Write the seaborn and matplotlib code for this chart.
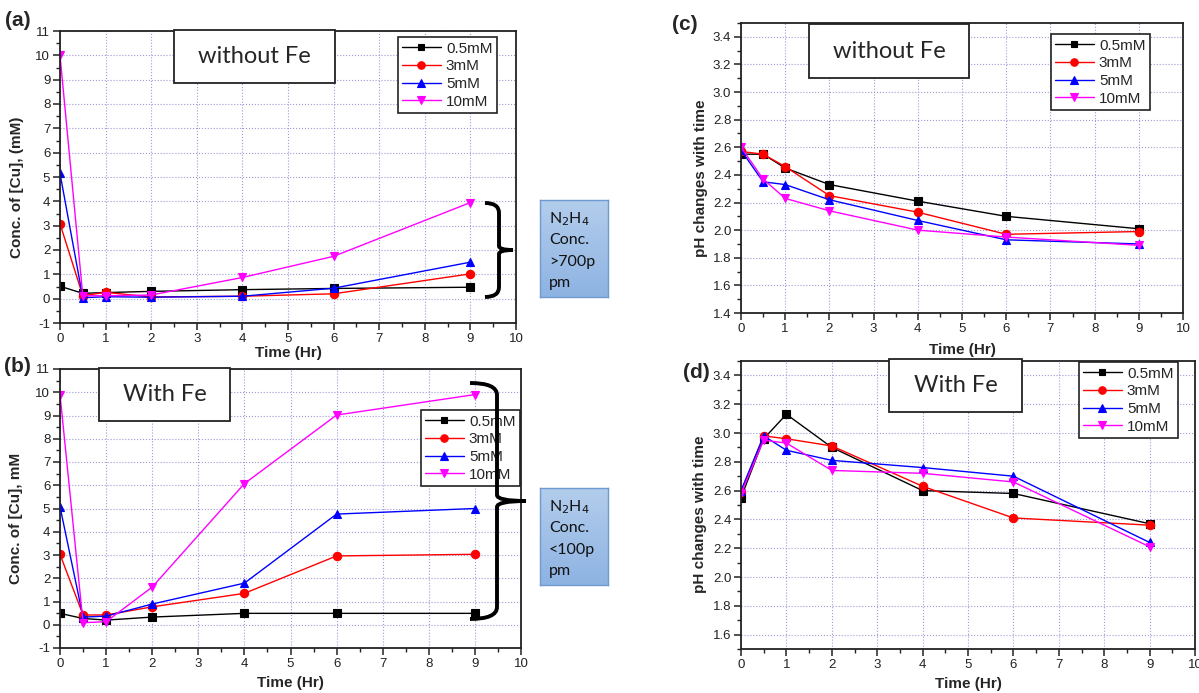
import numpy as np
import matplotlib
matplotlib.use('Agg')
import matplotlib.pyplot as plt
import seaborn as sns
from matplotlib.patches import Rectangle, PathPatch
from matplotlib.path import Path
from matplotlib.ticker import MultipleLocator, FormatStrFormatter
from matplotlib.colors import LinearSegmentedColormap

# ---- data ----
time_hr = [0, 0.5, 1, 2, 4, 6, 9]
series_labels = ['0.5mM', '3mM', '5mM', '10mM']

# (a) Cu conc. without Fe
cu_noFe_05 = [0.51, 0.22, 0.25, 0.30, 0.37, 0.42, 0.47]
cu_noFe_3 = [3.08, 0.12, 0.26, 0.07, 0.10, 0.20, 1.02]
cu_noFe_5 = [5.15, 0.04, 0.08, 0.06, 0.10, 0.43, 1.50]
cu_noFe_10 = [10.0, 0.12, 0.12, 0.15, 0.87, 1.74, 3.95]

# (b) Cu conc. with Fe
cu_Fe_05 = [0.49, 0.27, 0.20, 0.33, 0.49, 0.49, 0.49]
cu_Fe_3 = [3.03, 0.42, 0.42, 0.77, 1.35, 2.96, 3.03]
cu_Fe_5 = [5.08, 0.33, 0.37, 0.89, 1.79, 4.76, 5.00]
cu_Fe_10 = [9.90, 0.09, 0.13, 1.62, 6.07, 9.02, 9.90]

# (c) pH without Fe
ph_noFe_05 = [2.55, 2.55, 2.45, 2.33, 2.21, 2.10, 2.01]
ph_noFe_3 = [2.57, 2.55, 2.46, 2.25, 2.13, 1.97, 1.99]
ph_noFe_5 = [2.58, 2.35, 2.33, 2.22, 2.07, 1.93, 1.90]
ph_noFe_10 = [2.60, 2.37, 2.23, 2.14, 2.00, 1.95, 1.89]

# (d) pH with Fe
ph_Fe_05 = [2.55, 2.96, 3.13, 2.90, 2.60, 2.58, 2.37]
ph_Fe_3 = [2.59, 2.98, 2.96, 2.91, 2.63, 2.41, 2.36]
ph_Fe_5 = [2.60, 2.98, 2.88, 2.81, 2.76, 2.70, 2.24]
ph_Fe_10 = [2.58, 2.95, 2.93, 2.74, 2.72, 2.66, 2.21]

colors = ['black', 'red', 'blue', 'magenta']
markers = ['s', 'o', '^', 'v']
msizes = [5.2, 6.0, 6.3, 6.3]

W, H = 1199, 693

sns.set_theme(style='ticks')
plt.rcParams['font.family'] = ['Liberation Sans', 'DejaVu Sans']
plt.rcParams['axes.edgecolor'] = '#222222'
plt.rcParams['xtick.color'] = '#222222'
plt.rcParams['ytick.color'] = '#222222'


def fbox(x0, y0, x1, y1):
    # pixel box -> figure fraction [left, bottom, width, height]
    return [x0 / W, 1 - y1 / H, (x1 - x0) / W, (y1 - y0) / H]


def fpt(x, y):
    return (x / W, 1 - y / H)


fig = plt.figure(figsize=(W / 100, H / 100), dpi=100)
fig.patch.set_facecolor('white')


def draw_panel(ax, series, ylim, ymajor, ystep, yminor, fmt, ylabel, lab_x, lab_y, xlab_y, leg_anchor):
    for vals, col, mk, ms in zip(series, colors, markers, msizes):
        sns.lineplot(x=time_hr, y=vals, ax=ax, color=col, marker=mk, markersize=ms,
                     linewidth=1.0, markeredgecolor=col, markeredgewidth=0.8, legend=False)
    ax.set_xlim(0, 10)
    ax.set_ylim(*ylim)
    ax.set_xticks(range(0, 11))
    ax.xaxis.set_minor_locator(MultipleLocator(0.5))
    ax.set_yticks(np.round(np.arange(ymajor[0], ymajor[1] + 1e-9, ystep), 2))
    ax.yaxis.set_minor_locator(MultipleLocator(yminor))
    ax.yaxis.set_major_formatter(FormatStrFormatter(fmt))
    ax.tick_params(which='major', direction='out', length=5, width=1.1, labelsize=9.5, pad=2)
    ax.tick_params(which='minor', direction='out', length=3, width=1.0)
    ax.grid(True, which='major', linestyle=':', color='#9c9cd8', linewidth=0.8)
    for sp in ax.spines.values():
        sp.set_linewidth(1.3)
        sp.set_color('#222222')
    ax.set_xlabel('Time (Hr)', fontsize=11, fontweight='bold')
    ax.set_ylabel(ylabel, fontsize=11, fontweight='bold')
    ax.yaxis.set_label_coords(lab_x, lab_y)
    ax.xaxis.set_label_coords(0.5, xlab_y)
    leg = ax.legend(ax.lines[:4], series_labels, loc='upper right',
                    bbox_to_anchor=fpt(*leg_anchor), bbox_transform=fig.transFigure,
                    frameon=True, fancybox=False, edgecolor='#222222', framealpha=1,
                    fontsize=11, handlelength=2.5, handletextpad=0.35, markerscale=0.9,
                    labelspacing=0.24, borderpad=0.3, borderaxespad=0)
    leg.get_frame().set_linewidth(1.2)


def text_box(x0, y0, x1, y1, txt):
    fig.add_artist(Rectangle(fpt(x0, y1), (x1 - x0) / W, (y1 - y0) / H,
                             transform=fig.transFigure, facecolor='white',
                             edgecolor='#222222', linewidth=1.3, zorder=5))
    fig.text((x0 + x1) / 2 / W, 1 - (y0 + y1) / 2 / H, txt, ha='center', va='center',
             fontsize=17, family=['Lato', 'DejaVu Sans'], zorder=6)


def brace(x_left, x_mid, x_tip, y_top, y_mid, y_bot, r_end, r_mid):
    pts = [(x_left, y_top), (x_mid, y_top), (x_mid, y_top + r_end),
           (x_mid, y_mid - r_mid), (x_mid, y_mid), (x_tip, y_mid),
           (x_mid, y_mid), (x_mid, y_mid + r_mid),
           (x_mid, y_bot - r_end), (x_mid, y_bot), (x_left, y_bot)]
    codes = [Path.MOVETO, Path.CURVE3, Path.CURVE3,
             Path.LINETO, Path.CURVE3, Path.CURVE3,
             Path.CURVE3, Path.CURVE3,
             Path.LINETO, Path.CURVE3, Path.CURVE3]
    path = Path([fpt(x, y) for x, y in pts], codes)
    fig.add_artist(PathPatch(path, fill=False, edgecolor='black', linewidth=2.8,
                             transform=fig.transFigure, zorder=7))


def blue_note(x0, y0, x1, y1, lines):
    bax = fig.add_axes(fbox(x0, y0, x1, y1))
    cmap = LinearSegmentedColormap.from_list('note', ['#b3cdec', '#8eb3e2'])
    bax.imshow(np.linspace(0, 1, 100).reshape(-1, 1), cmap=cmap, aspect='auto',
               extent=[0, 1, 0, 1])
    bax.set_xticks([])
    bax.set_yticks([])
    for sp in bax.spines.values():
        sp.set_color('#6e9ad0')
        sp.set_linewidth(1.0)
    for i, ln in enumerate(lines):
        fig.text((x0 + 9) / W, 1 - (y0 + 23 + 21.5 * i) / H, ln, ha='left', va='baseline',
                 fontsize=11.5, family=['Lato', 'DejaVu Sans'], color='#111111')


ax_a = fig.add_axes(fbox(60, 31, 516, 323))
ax_b = fig.add_axes(fbox(60, 369, 521, 648))
ax_c = fig.add_axes(fbox(741, 23, 1183, 313))
ax_d = fig.add_axes(fbox(741, 361, 1195, 649))

draw_panel(ax_a, [cu_noFe_05, cu_noFe_3, cu_noFe_5, cu_noFe_10], (-1, 11), (-1, 11), 1, 0.5,
           '%d', 'Conc. of [Cu], (mM)', -0.08, 0.465, -0.08, (497, 37))
draw_panel(ax_b, [cu_Fe_05, cu_Fe_3, cu_Fe_5, cu_Fe_10], (-1, 11), (-1, 11), 1, 0.5,
           '%d', 'Conc. of [Cu], mM', -0.08, 0.466, -0.10, (520, 410))
draw_panel(ax_c, [ph_noFe_05, ph_noFe_3, ph_noFe_5, ph_noFe_10], (1.4, 3.5), (1.4, 3.4), 0.2, 0.1,
           '%.1f', 'pH changes with time', -0.075, 0.466, -0.105, (1150, 34))
draw_panel(ax_d, [ph_Fe_05, ph_Fe_3, ph_Fe_5, ph_Fe_10], (1.5, 3.5), (1.6, 3.4), 0.2, 0.1,
           '%.1f', 'pH changes with time', -0.075, 0.469, -0.097, (1178, 362))

text_box(174, 30, 335, 83, 'without Fe')
text_box(99, 368, 230, 421, 'With Fe')
text_box(809, 24, 969, 78, 'without Fe')
text_box(889, 359, 1022, 412, 'With Fe')

for lab, (x, y) in zip(['(a)', '(b)', '(c)', '(d)'], [(5, 20), (4, 367), (672, 25), (683, 372)]):
    fig.text(x / W, 1 - y / H, lab, ha='left', va='center', fontsize=15, fontweight='bold')

brace(485, 499, 513, 203, 250, 297, 10, 4)
brace(470, 497, 526, 383, 501, 619, 12, 6)

blue_note(540, 200, 608, 297, [r'N$_2$H$_4$', 'Conc.', '>700p', 'pm'])
blue_note(540, 488, 608, 585, [r'N$_2$H$_4$', 'Conc.', '<100p', 'pm'])

fig.savefig('out.png', dpi=100)
